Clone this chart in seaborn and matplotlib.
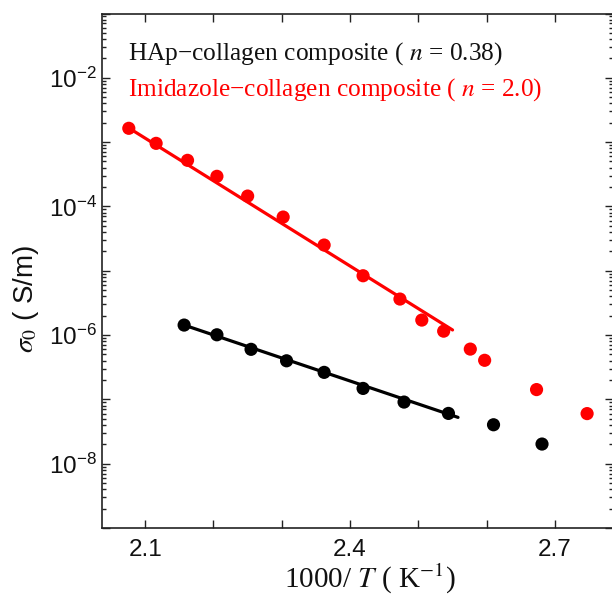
import numpy as np
import pandas as pd
import matplotlib
matplotlib.use("Agg")
import matplotlib.pyplot as plt
import matplotlib.ticker as mticker
import seaborn as sns

# Measured conductivity vs inverse temperature
imid_x = [2.076, 2.116, 2.162, 2.205, 2.250, 2.302, 2.362, 2.419, 2.473,
          2.505, 2.537, 2.576, 2.597, 2.673, 2.747]
imid_sigma = [1.64e-3, 9.57e-4, 5.21e-4, 2.94e-4, 1.45e-4, 6.84e-5, 2.51e-5,
              8.36e-6, 3.63e-6, 1.71e-6, 1.15e-6, 6.05e-7, 4.05e-7, 1.42e-7,
              6.01e-8]
hap_x = [2.157, 2.205, 2.255, 2.307, 2.362, 2.419, 2.479, 2.544, 2.610, 2.681]
hap_sigma = [1.43e-6, 1.01e-6, 6.00e-7, 3.98e-7, 2.63e-7, 1.48e-7, 9.08e-8,
             6.05e-8, 4.03e-8, 2.02e-8]

# Arrhenius fit segments (end points)
imid_fit_x = [2.076, 2.550]
imid_fit_sigma = [1.66e-3, 1.20e-6]
hap_fit_x = [2.157, 2.558]
hap_fit_sigma = [1.43e-6, 5.25e-8]

labels = ["HAp\u2212collagen composite ( $n$ = 0.38)",
          "Imidazole\u2212collagen composite ( $n$ = 2.0)"]
x_ticks = [2.1, 2.4, 2.7]
x_minor = [2.2, 2.3, 2.5, 2.6]
y_decades = [-9, -8, -7, -6, -5, -4, -3, -2, -1]
y_labelled = [-8, -6, -4, -2]

sns.set_theme(style="ticks")
plt.rcParams["font.family"] = ["Liberation Sans", "DejaVu Sans"]
plt.rcParams["mathtext.fontset"] = "stix"

pts = pd.concat([
    pd.DataFrame({"x": hap_x, "sigma": hap_sigma, "sample": "HAp"}),
    pd.DataFrame({"x": imid_x, "sigma": imid_sigma, "sample": "Imidazole"}),
])
fits = pd.concat([
    pd.DataFrame({"x": hap_fit_x, "sigma": hap_fit_sigma, "sample": "HAp"}),
    pd.DataFrame({"x": imid_fit_x, "sigma": imid_fit_sigma, "sample": "Imidazole"}),
])
palette = {"HAp": "#000000", "Imidazole": "#ff0000"}

fig = plt.figure(figsize=(6.12, 5.98), dpi=100)
ax = fig.add_axes([102.3 / 612, 70 / 598, 510.2 / 612, 514.5 / 598])

sns.lineplot(data=fits, x="x", y="sigma", hue="sample", palette=palette,
             sort=False, lw=2.3, legend=False, ax=ax, zorder=2)
sns.scatterplot(data=pts, x="x", y="sigma", hue="sample", palette=palette,
                s=90, edgecolor="none", legend=False, ax=ax, zorder=3)

ax.set_yscale("log")
ax.set_xlim(2.0372, 2.7842)
ax.set_ylim(1e-9, 1e-1)

ax.xaxis.set_major_locator(mticker.FixedLocator(x_ticks))
ax.xaxis.set_minor_locator(mticker.FixedLocator(x_minor))
ax.xaxis.set_major_formatter(mticker.FormatStrFormatter("%.1f"))

major_y = [10.0 ** e for e in y_decades]
minor_y = [m * 10.0 ** e for e in y_decades[:-1] for m in range(2, 10)]
ax.yaxis.set_major_locator(mticker.FixedLocator(major_y))
ax.yaxis.set_minor_locator(mticker.FixedLocator(minor_y))
ax.yaxis.set_major_formatter(mticker.FixedFormatter(
    [r"$\mathdefault{10^{%d}}$" % e if e in y_labelled else "" for e in y_decades]))
ax.yaxis.set_minor_formatter(mticker.NullFormatter())

ax.tick_params(which="both", direction="in", top=True, right=True,
               width=1.0, color="#222222", labelsize=17.5, labelcolor="#111111")
ax.tick_params(axis="x", which="both", length=6, pad=8)
ax.tick_params(axis="y", which="major", length=6, pad=4)
ax.tick_params(axis="y", which="minor", length=3)
for sp in ax.spines.values():
    sp.set_linewidth(1.2)
    sp.set_color("#222222")

ax.set_xlabel("1000/ $T$ ( K$^{-1}$)", fontsize=21, family="Liberation Serif",
              color="#111111")
ax.xaxis.set_label_coords(0.525, -0.066)
ax.set_ylabel(r"$\sigma_0$ ( S/m)", fontsize=20, color="#111111")
ax.yaxis.set_label_coords(-0.12, 0.445)

ax.text(0.0504, 0.9100, labels[0], transform=ax.transAxes, va="baseline",
        ha="left", fontsize=18.3, family="Liberation Serif", color="#111111")
ax.text(0.0504, 0.8395, labels[1], transform=ax.transAxes, va="baseline",
        ha="left", fontsize=18.3, family="Liberation Serif", color="#ff0000")

fig.savefig("out.png", dpi=100)
